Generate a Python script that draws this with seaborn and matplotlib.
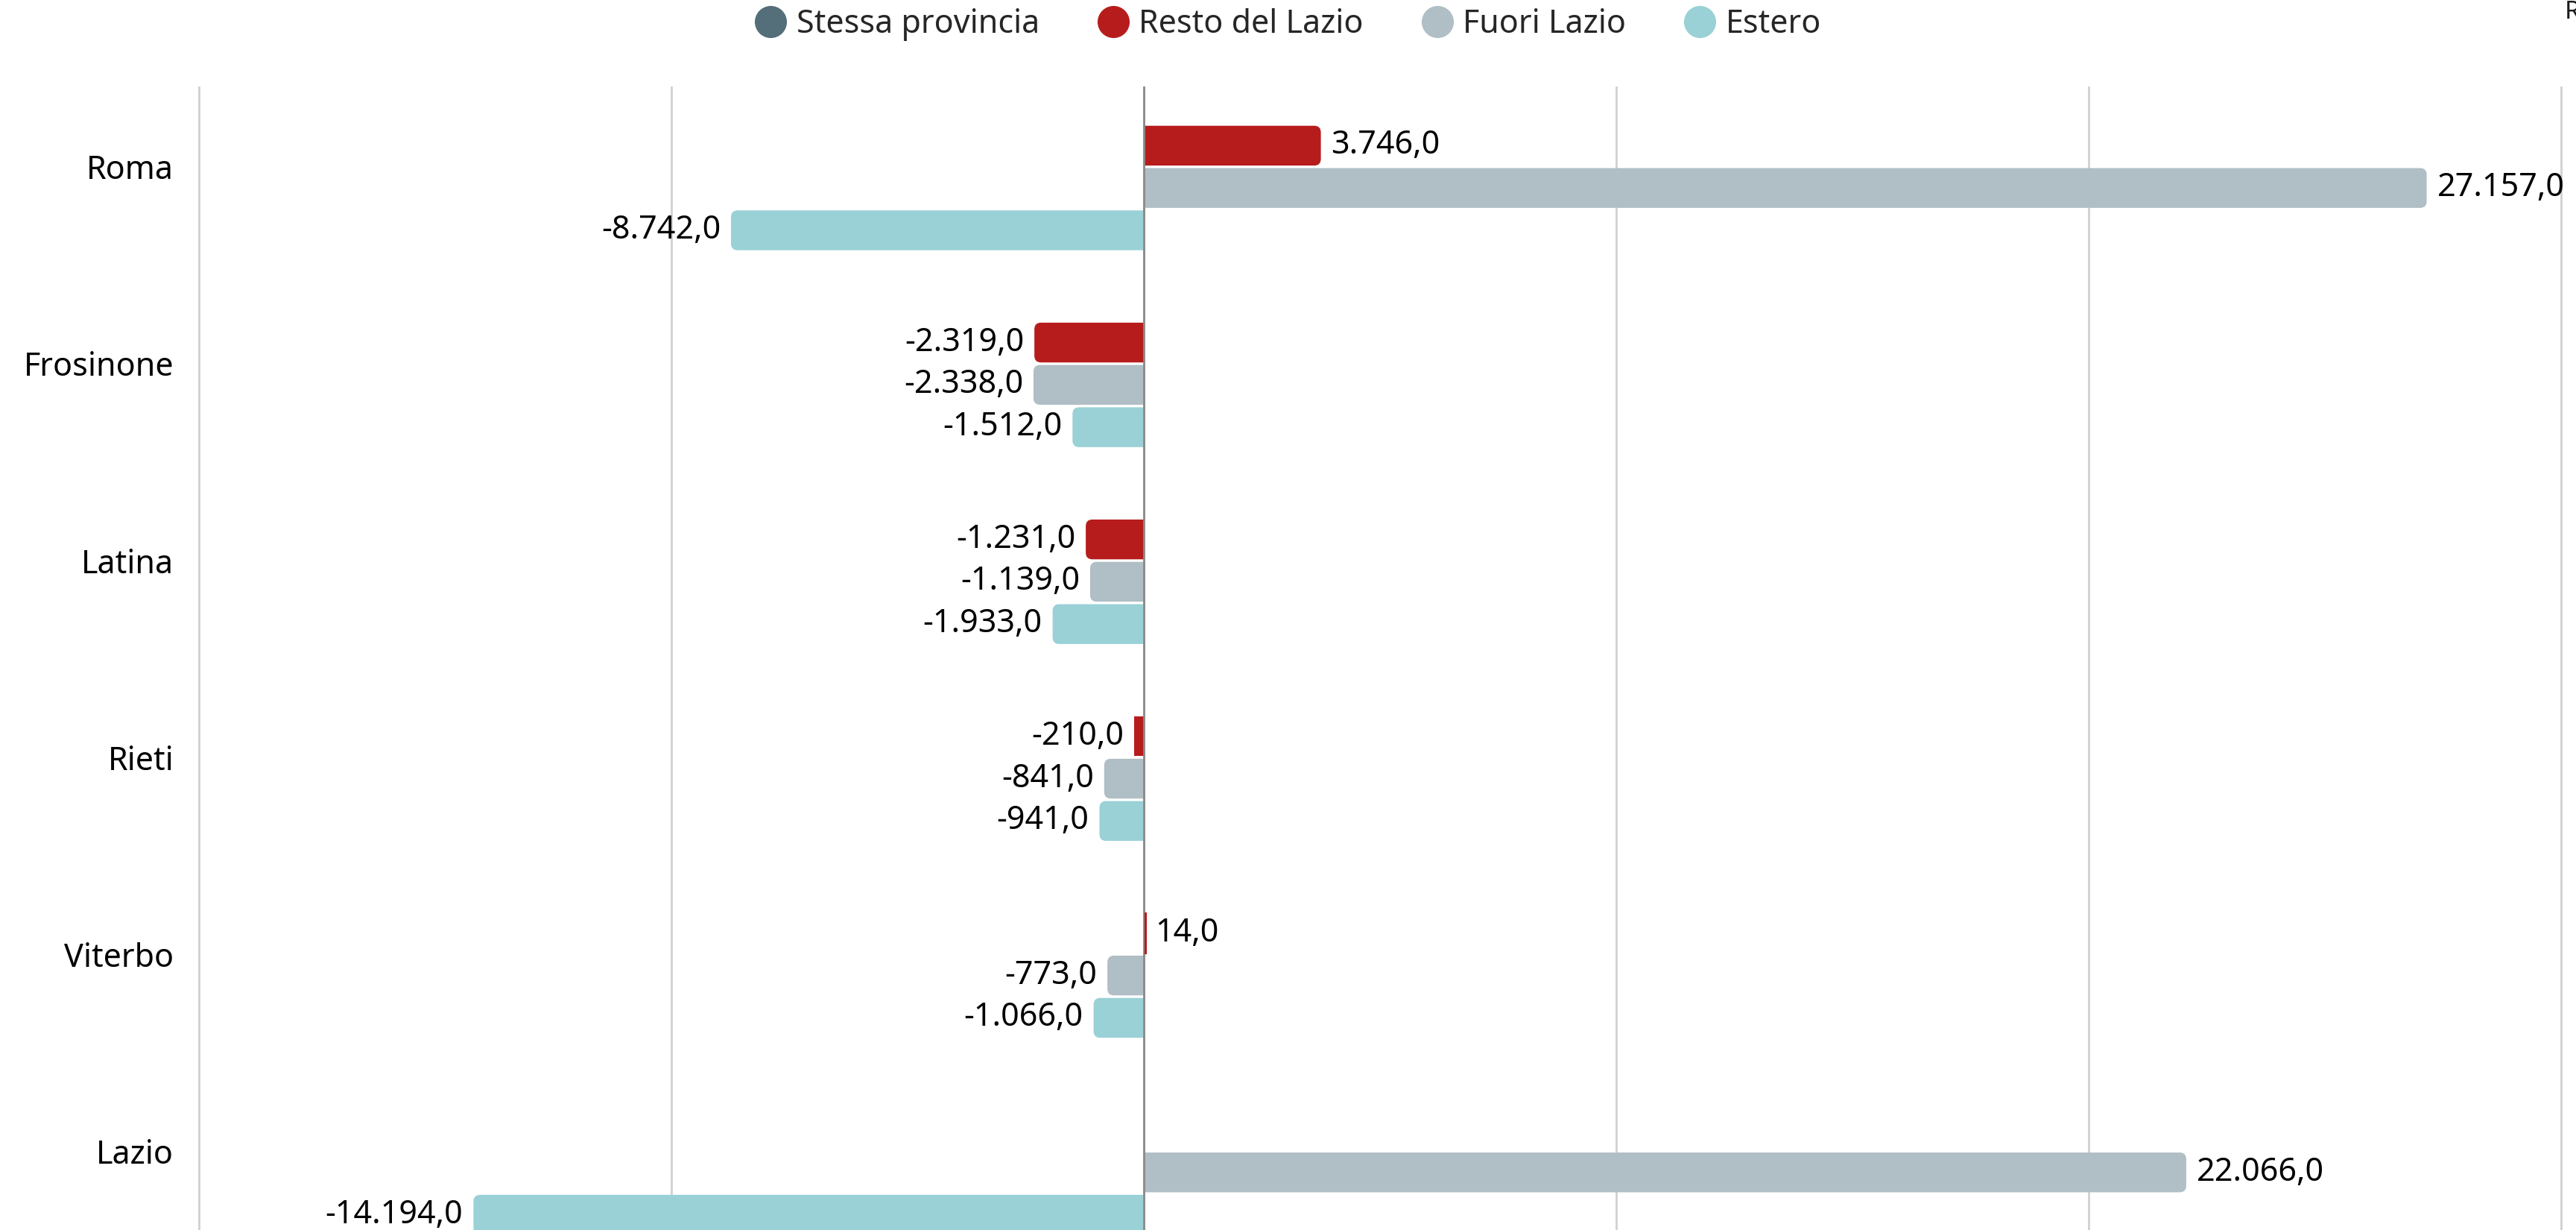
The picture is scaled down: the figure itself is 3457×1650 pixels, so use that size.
import numpy as np
import pandas as pd
import matplotlib
matplotlib.use("Agg")
import matplotlib.pyplot as plt
from matplotlib.lines import Line2D
from matplotlib.patches import FancyBboxPatch, Rectangle
import seaborn as sns

# Saldo migratorio per provincia e destinazione
province = ["Roma", "Frosinone", "Latina", "Rieti", "Viterbo", "Lazio"]
series = ["Stessa provincia", "Resto del Lazio", "Fuori Lazio", "Estero"]
stessa_provincia = [np.nan] * 6
resto_lazio = [3746, -2319, -1231, -210, 14, np.nan]
fuori_lazio = [27157, -2338, -1139, -841, -773, 22066]
estero = [-8742, -1512, -1933, -941, -1066, -14194]
colors = ["#546e7a", "#b71c1c", "#b0bec5", "#99d1d6"]

df = pd.DataFrame({
    "provincia": province * 4,
    "serie": [s for s in series for _ in province],
    "valore": stessa_provincia + resto_lazio + fuori_lazio + estero,
})

sns.set_theme(style="white")
plt.rcParams["font.family"] = ["Noto Sans", "DejaVu Sans"]

fig = plt.figure(figsize=(34.57, 16.5), dpi=100)
ax = fig.add_axes([0.0755, 0.0, 0.9205, 0.930])

sns.barplot(data=df, y="provincia", x="valore", hue="serie", order=province,
            hue_order=series, palette=colors, saturation=1, orient="h",
            width=0.86, gap=0.06, errorbar=None, linewidth=0, legend=False, ax=ax)

ax.set_xlim(-20100, 30100)
ax.set_ylim(5.4, -0.41)
ax.set_xticks([-20000, -10000, 0, 10000, 20000, 30000])
ax.set_xticklabels([])
ax.grid(axis="x", color="#d0d0d0", linewidth=2)
ax.grid(axis="y", visible=False)
ax.set_axisbelow(True)
ax.axvline(0, color="#8a8a8a", linewidth=2, zorder=1.5)
for sp in ax.spines.values():
    sp.set_visible(False)
ax.set_xlabel("")
ax.set_ylabel("")
ax.tick_params(axis="y", length=0, pad=20, labelsize=31, labelcolor="black")
ax.tick_params(axis="x", length=0)

# rounded outer end of each bar, square end on the zero line
fig.canvas.draw()
p0 = ax.transData.transform((0, 0))
p1 = ax.transData.transform((1, 1))
aspect = abs(1 / (p1[1] - p0[1])) / abs(1 / (p1[0] - p0[0]))
r = 140
clip_pos = Rectangle((0, -5), 1e6, 20, transform=ax.transData)
clip_neg = Rectangle((-1e6, -5), 1e6, 20, transform=ax.transData)


def fmt(v):
    s = f"{abs(v):,.1f}".replace(",", "X").replace(".", ",").replace("X", ".")
    return ("-" if v < 0 else "") + s


for cont in ax.containers:
    for bar in cont:
        w = bar.get_width()
        if np.isnan(w):
            continue
        y0, h = bar.get_y(), bar.get_height()
        if abs(w) > 2 * r:
            x0 = -r if w > 0 else w
            rb = FancyBboxPatch((x0, y0), abs(w) + r, h,
                                boxstyle=f"round,pad=0,rounding_size={r}",
                                mutation_aspect=aspect, facecolor=bar.get_facecolor(),
                                edgecolor="none", zorder=bar.get_zorder())
            ax.add_patch(rb)
            rb.set_clip_path(clip_pos if w > 0 else clip_neg)
            bar.set_visible(False)
        elif abs(w) < 50:
            # tiny bar: thin line just beside the zero line
            bar.set_x(30 if w > 0 else w - 30)
            bar.set_edgecolor(bar.get_facecolor())
            bar.set_linewidth(1.5)
            bar.set_zorder(2)
        yc = y0 + h / 2
        off = 10 if w >= 0 else -10
        ax.annotate(fmt(w), (w, yc), xytext=(off, 0), textcoords="offset points",
                    ha="left" if w >= 0 else "right", va="center",
                    fontsize=31, color="black")

handles = [Line2D([0], [0], marker="o", linestyle="", markersize=30,
                  markerfacecolor=c, markeredgecolor=c) for c in colors]
fig.legend(handles, series, loc="center", bbox_to_anchor=(0.5, 0.98), ncol=4,
           frameon=False, fontsize=31, handletextpad=0.3, columnspacing=1.8,
           handlelength=1.0)

fig.text(0.9955, 1.0, "R", ha="left", va="top", fontsize=24, fontweight="bold",
         color="#1a1a1a")

fig.savefig("out.png", dpi=100)
